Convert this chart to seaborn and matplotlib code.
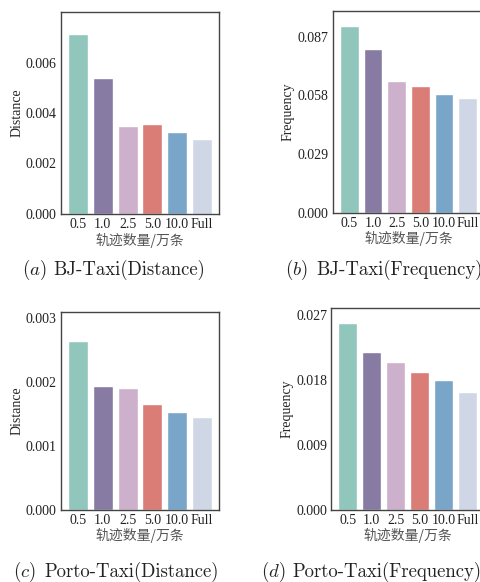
import matplotlib
matplotlib.use("Agg")
import matplotlib.pyplot as plt
import seaborn as sns
import pandas as pd
from matplotlib.ticker import FormatStrFormatter

categories = ["0.5", "1.0", "2.5", "5.0", "10.0", "Full"]
bj_distance = [0.00714, 0.00538, 0.00348, 0.00356, 0.00324, 0.00296]
bj_frequency = [0.0924, 0.0809, 0.0651, 0.0626, 0.0587, 0.0567]
porto_distance = [0.00264, 0.00194, 0.00190, 0.00165, 0.00153, 0.00145]
porto_frequency = [0.0259, 0.0219, 0.0205, 0.0191, 0.0180, 0.0163]
palette = ["#91c6bc", "#877ba3", "#cdb0cc", "#d97d76", "#79a6c8", "#cfd6e5"]

bj_dist_ticks = [0.0, 0.002, 0.004, 0.006]
bj_freq_ticks = [0.0, 0.029, 0.058, 0.087]
porto_dist_ticks = [0.0, 0.001, 0.002, 0.003]
porto_freq_ticks = [0.0, 0.009, 0.018, 0.027]

xlabel = "轨迹数量/万条"
captions = ["BJ-Taxi(Distance)", "BJ-Taxi(Frequency)", "Porto-Taxi(Distance)", "Porto-Taxi(Frequency)"]
letters = ["a", "b", "c", "d"]

sns.set_theme(style="white")
plt.rcParams["font.family"] = ["Liberation Serif", "Noto Sans CJK SC", "DejaVu Sans"]
plt.rcParams["mathtext.fontset"] = "cm"

fig = plt.figure(figsize=(4.81, 5.82), dpi=100)

W, H = 481.0, 582.0
def rect(l, r, t, b):
    return [l / W, 1 - b / H, (r - l) / W, (b - t) / H]

panels = [
    (rect(61, 219, 12, 214), bj_distance, "Distance", bj_dist_ticks, 0.0080),
    (rect(333, 484, 10.7, 212.7), bj_frequency, "Frequency", bj_freq_ticks, 0.0999),
    (rect(61, 219, 312, 509.7), porto_distance, "Distance", porto_dist_ticks, 0.00309),
    (rect(331.3, 484, 308.3, 509.7), porto_frequency, "Frequency", porto_freq_ticks, 0.02793),
]

for (r, vals, ylab, ticks, ymax) in panels:
    ax = fig.add_axes(r)
    df = pd.DataFrame({"cat": categories, "val": vals})
    sns.barplot(data=df, x="cat", y="val", hue="cat", palette=palette,
                legend=False, ax=ax, width=0.8, saturation=1)
    ax.set_xlim(-0.69, 5.69)
    ax.set_ylim(0, ymax)
    ax.set_yticks(ticks)
    ax.yaxis.set_major_formatter(FormatStrFormatter("%.3f"))
    ax.set_ylabel(ylab, fontsize=10, labelpad=2)
    ax.set_xlabel(xlabel, fontsize=10, family=["Noto Sans CJK SC", "DejaVu Sans"],
                  color="#555555", labelpad=1)
    ax.tick_params(axis="both", direction="in", length=2, width=0.8,
                   labelsize=10, pad=3, colors="#333333", labelcolor="#222222")
    for s in ax.spines.values():
        s.set_color("#444444")
        s.set_linewidth(1.0)

cap_pos = [(22, 270), (285, 270), (13, 572), (261, 572)]
for (x, y), let, cap in zip(cap_pos, letters, captions):
    t1 = fig.text(x / W, 1 - y / H, r"$(" + let + r")$", fontsize=13.5,
                  va="center", ha="left", color="#222222")
    fig.text((x + 31) / W, 1 - y / H, cap, fontsize=13.5,
             family="cmr10", va="center", ha="left", color="#222222")

fig.savefig("out.png", dpi=100)
